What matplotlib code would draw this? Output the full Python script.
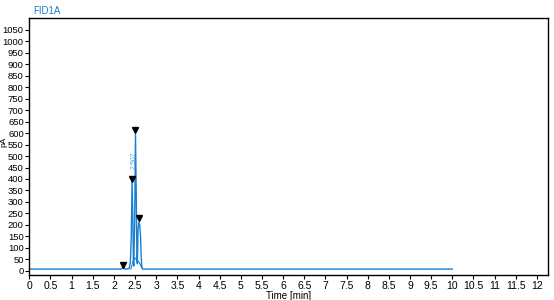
import matplotlib
matplotlib.use("Agg")
import matplotlib.pyplot as plt
import numpy as np

# signal trace, time in min, signal in pA
time_min = [0.0, 2.18, 2.21, 2.24, 2.30, 2.36, 2.39, 2.41, 2.43, 2.45, 2.46,
            2.47, 2.49, 2.51, 2.53, 2.545, 2.555, 2.57, 2.59, 2.61, 2.63,
            2.645, 2.66, 2.68, 10.0]
signal_pa = [7, 7, 14, 8, 7, 9, 40, 150, 390, 200, 40,
             20, 200, 595, 300, 40, 30, 180, 210, 200, 150,
             60, 15, 7, 7]

# second, lower trace under the peaks
time2_min = [2.40, 2.45, 2.50, 2.55, 2.60, 2.64, 2.68]
signal2_pa = [7, 40, 55, 45, 35, 20, 7]

# peak marks
peak_t = [2.21, 2.43, 2.51, 2.59]
peak_y = [25, 400, 612, 228]
rt_label = "2.507"

blue = "#1a7fd0"

fig = plt.figure(figsize=(5.54, 3.0), dpi=100)
ax = fig.add_axes([0.0529, 0.0833, 0.9361, 0.8557])
plt.rcParams['font.family'] = ['Liberation Sans', 'DejaVu Sans']

ax.plot(time_min, signal_pa, color=blue, lw=1.0)
ax.plot(time2_min, signal2_pa, color=blue, lw=0.8)
ax.plot(peak_t, peak_y, linestyle="none", marker="v", color="black", ms=5)
ax.text(2.475, 480, rt_label, rotation=90, fontsize=5, color="#5aa7e0",
        ha="center", va="center", family="Liberation Sans")

ax.set_xlim(0, 12.26)
ax.set_ylim(-19, 1101)
ax.set_xticks(np.arange(0, 12.01, 0.5))
ax.set_xticklabels(["%g" % v for v in np.arange(0, 12.01, 0.5)])
ax.set_yticks(np.arange(0, 1051, 50))
ax.tick_params(axis="x", labelsize=7.5, length=3, width=0.8, pad=1.5)
ax.tick_params(axis="y", labelsize=6.8, length=3, width=0.8, pad=1)
for lab in ax.get_xticklabels() + ax.get_yticklabels():
    lab.set_family("Liberation Sans")
for s in ax.spines.values():
    s.set_linewidth(1.0)

ax.set_xlabel("Time [min]", fontsize=7, labelpad=0, family="Liberation Sans")
fig.text(0.0, 1 - 142 / 300, "pA", fontsize=6, rotation=90,
         ha="left", va="center", family="Liberation Sans")
fig.text(0.060, 0.965, "FID1A", fontsize=7, color=blue, va="center",
         family="Liberation Sans")

fig.savefig("out.png", dpi=100)
